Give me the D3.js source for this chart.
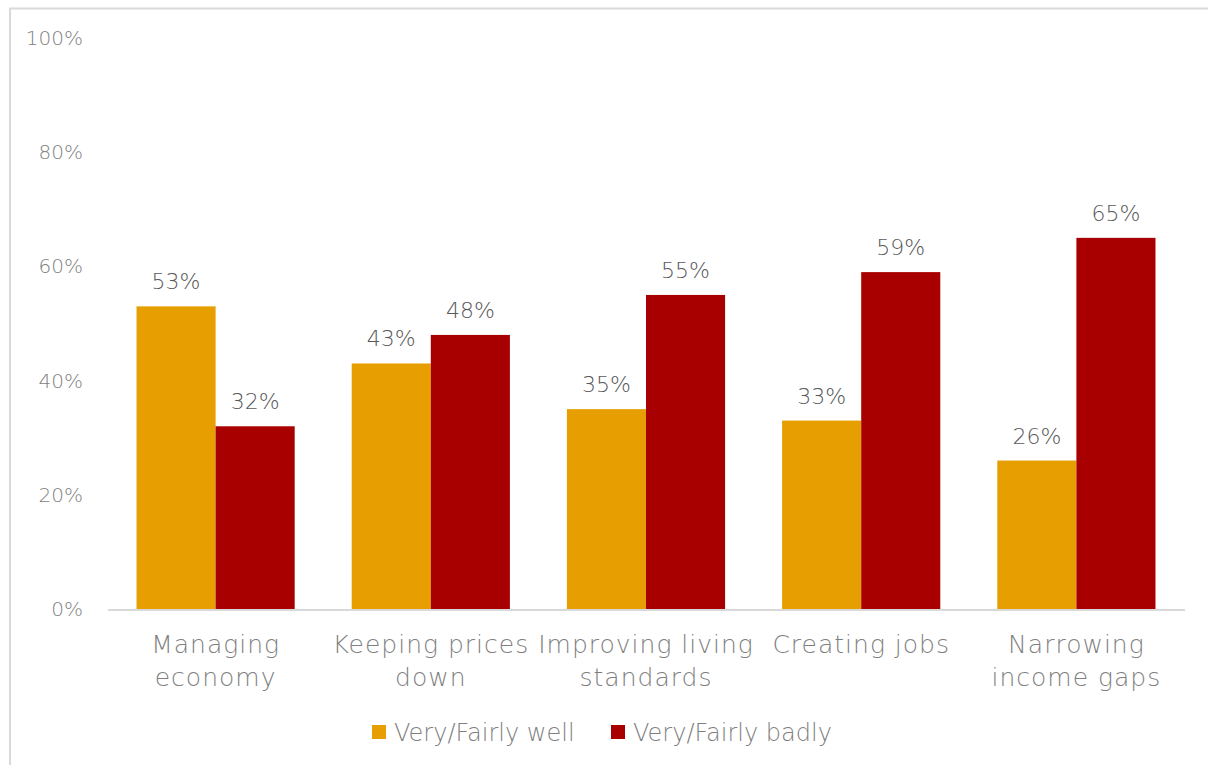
<!DOCTYPE html>
<html lang="en">
<head>
  <meta charset="UTF-8">
  <title>Government performance</title>
  <script src="https://d3js.org/d3.v7.min.js"></script>
  <style>
    body { margin: 0; background: #fff; }
    svg text { font-family: "DejaVu Sans", sans-serif; font-weight: 200; }
  </style>
</head>
<body>
  <div id="chart"></div>
  <script>
    // data
    const categories = ["Managing economy", "Keeping prices down", "Improving living standards", "Creating jobs", "Narrowing income gaps"];
    const labelLines = [["Managing", "economy"], ["Keeping prices", "down"], ["Improving living", "standards"], ["Creating jobs"], ["Narrowing", "income gaps"]];
    const series = ["Very/Fairly well", "Very/Fairly badly"];
    const wellValues = [53, 43, 35, 33, 26];
    const badlyValues = [32, 48, 55, 59, 65];
    const yTicks = [0, 20, 40, 60, 80, 100];
    const colors = ["#E69E00", "#A80000"];

    const width = 1208, height = 765;
    const margin = { top: 38, right: 24, bottom: 156, left: 108 };

    const svg = d3.select("#chart").append("svg")
      .attr("width", width)
      .attr("height", height);

    // outer frame
    svg.append("rect")
      .attr("x", 10).attr("y", 8.5)
      .attr("width", width + 20).attr("height", height + 20)
      .attr("fill", "none")
      .attr("stroke", "#d9d9d9")
      .attr("stroke-width", 2);

    const x0 = d3.scaleBand()
      .domain(categories)
      .range([margin.left, width - margin.right])
      .paddingInner(0.265)
      .paddingOuter(0.1325);

    const x1 = d3.scaleBand()
      .domain(series)
      .range([0, x0.bandwidth()]);

    const y = d3.scaleLinear()
      .domain([0, 100])
      .range([height - margin.bottom, margin.top]);

    // y axis labels
    const yAxis = svg.append("g")
      .attr("transform", `translate(${margin.left - 22},0)`)
      .call(d3.axisLeft(y).tickValues(yTicks).tickFormat(d => d + "%").tickSize(0));
    yAxis.select(".domain").remove();
    yAxis.selectAll("text")
      .attr("font-size", "20px")
      .attr("fill", "#7f7f7f")
      .style("font-family", "'DejaVu Sans', sans-serif");

    const rows = categories.map((c, i) => ({ cat: c, vals: [wellValues[i], badlyValues[i]] }));

    const groups = svg.append("g").selectAll("g")
      .data(rows)
      .join("g")
      .attr("transform", d => `translate(${x0(d.cat)},0)`);

    groups.selectAll("rect")
      .data(d => d.vals.map((v, j) => ({ key: series[j], v: v, j: j })))
      .join("rect")
      .attr("x", d => x1(d.key))
      .attr("y", d => y(d.v))
      .attr("width", x1.bandwidth())
      .attr("height", d => y(0) - y(d.v))
      .attr("fill", d => colors[d.j]);

    groups.selectAll("text.val")
      .data(d => d.vals.map((v, j) => ({ key: series[j], v: v })))
      .join("text")
      .attr("class", "val")
      .attr("x", d => x1(d.key) + x1.bandwidth() / 2)
      .attr("y", d => y(d.v) - 17)
      .attr("text-anchor", "middle")
      .attr("font-size", "22px")
      .attr("fill", "#595959")
      .text(d => d.v + "%");

    // baseline
    svg.append("line")
      .attr("x1", margin.left).attr("x2", width - margin.right + 1)
      .attr("y1", y(0) + 1).attr("y2", y(0) + 1)
      .attr("stroke", "#d9d9d9")
      .attr("stroke-width", 2);

    // category labels
    const catText = svg.append("g").selectAll("text")
      .data(categories)
      .join("text")
      .attr("x", d => x0(d) + x0.bandwidth() / 2)
      .attr("y", y(0) + 44)
      .attr("text-anchor", "middle")
      .attr("font-size", "25px")
      .attr("letter-spacing", "1px")
      .attr("fill", "#7f7f7f");
    catText.selectAll("tspan")
      .data((d, i) => labelLines[i])
      .join("tspan")
      .attr("x", function () { return d3.select(this.parentNode).attr("x"); })
      .attr("dy", (d, i) => i === 0 ? 0 : 33)
      .text(d => d);

    // legend
    const legendX = [372, 611];
    const legend = svg.append("g").selectAll("g")
      .data(series)
      .join("g")
      .attr("transform", (d, i) => `translate(${legendX[i]},725)`);
    legend.append("rect")
      .attr("width", 14).attr("height", 14)
      .attr("fill", (d, i) => colors[i]);
    legend.append("text")
      .attr("x", 22).attr("y", 16)
      .attr("font-size", "24px")
      .attr("fill", "#7f7f7f")
      .text(d => d);
  </script>
</body>
</html>
